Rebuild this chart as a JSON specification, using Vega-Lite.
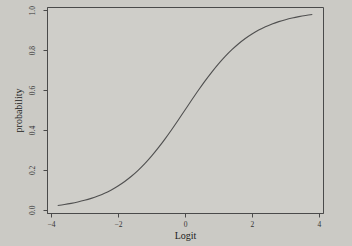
{
  "$schema": "https://vega.github.io/schema/vega-lite/v6.json",
  "width": 276,
  "height": 206,
  "autosize": {"type": "none"},
  "padding": {"left": 47, "top": 7, "right": 29, "bottom": 33},
  "background": "#cbcac5",
  "config": {
    "view": {"stroke": "#4a4a4a", "strokeWidth": 1, "fill": "#cfcec9"},
    "font": "Liberation Serif",
    "axis": {
      "domainColor": "#4a4a4a",
      "tickColor": "#4a4a4a",
      "labelColor": "#333333",
      "titleColor": "#222222",
      "labelFont": "Liberation Serif",
      "titleFont": "Liberation Serif",
      "labelFontSize": 7.5,
      "titleFontSize": 10,
      "titleFontWeight": "normal",
      "grid": false,
      "tickSize": 4
    }
  },
  "data": {
    "values": [
      {"logit": -3.8, "probability": 0.02188},
      {"logit": -3.6, "probability": 0.0266},
      {"logit": -3.4, "probability": 0.0323},
      {"logit": -3.2, "probability": 0.03917},
      {"logit": -3.0, "probability": 0.04743},
      {"logit": -2.8, "probability": 0.05732},
      {"logit": -2.6, "probability": 0.06914},
      {"logit": -2.4, "probability": 0.08317},
      {"logit": -2.2, "probability": 0.09975},
      {"logit": -2.0, "probability": 0.1192},
      {"logit": -1.8, "probability": 0.14185},
      {"logit": -1.6, "probability": 0.16798},
      {"logit": -1.4, "probability": 0.19782},
      {"logit": -1.2, "probability": 0.23148},
      {"logit": -1.0, "probability": 0.26894},
      {"logit": -0.8, "probability": 0.31003},
      {"logit": -0.6, "probability": 0.35434},
      {"logit": -0.4, "probability": 0.40131},
      {"logit": -0.2, "probability": 0.45017},
      {"logit": 0.0, "probability": 0.5},
      {"logit": 0.2, "probability": 0.54983},
      {"logit": 0.4, "probability": 0.59869},
      {"logit": 0.6, "probability": 0.64566},
      {"logit": 0.8, "probability": 0.68997},
      {"logit": 1.0, "probability": 0.73106},
      {"logit": 1.2, "probability": 0.76852},
      {"logit": 1.4, "probability": 0.80218},
      {"logit": 1.6, "probability": 0.83202},
      {"logit": 1.8, "probability": 0.85815},
      {"logit": 2.0, "probability": 0.8808},
      {"logit": 2.2, "probability": 0.90025},
      {"logit": 2.4, "probability": 0.91683},
      {"logit": 2.6, "probability": 0.93086},
      {"logit": 2.8, "probability": 0.94268},
      {"logit": 3.0, "probability": 0.95257},
      {"logit": 3.2, "probability": 0.96083},
      {"logit": 3.4, "probability": 0.9677},
      {"logit": 3.6, "probability": 0.9734},
      {"logit": 3.8, "probability": 0.97812}
    ]
  },
  "mark": {"type": "line", "color": "#505050", "strokeWidth": 1.1, "interpolate": "monotone"},
  "encoding": {
    "x": {
      "field": "logit",
      "type": "quantitative",
      "scale": {"domain": [-4.12, 4.12], "nice": false, "zero": false},
      "axis": {
        "title": "Logit",
        "values": [-4, -2, 0, 2, 4],
        "labelPadding": 3,
        "titlePadding": 3
      }
    },
    "y": {
      "field": "probability",
      "type": "quantitative",
      "scale": {"domain": [-0.016, 1.016], "nice": false, "zero": false},
      "axis": {
        "title": "probability",
        "values": [0, 0.2, 0.4, 0.6, 0.8, 1.0],
        "format": ".1f",
        "labelAngle": -90,
        "labelAlign": "center",
        "labelBaseline": "bottom",
        "labelPadding": 7,
        "titlePadding": 5
      }
    }
  }
}
